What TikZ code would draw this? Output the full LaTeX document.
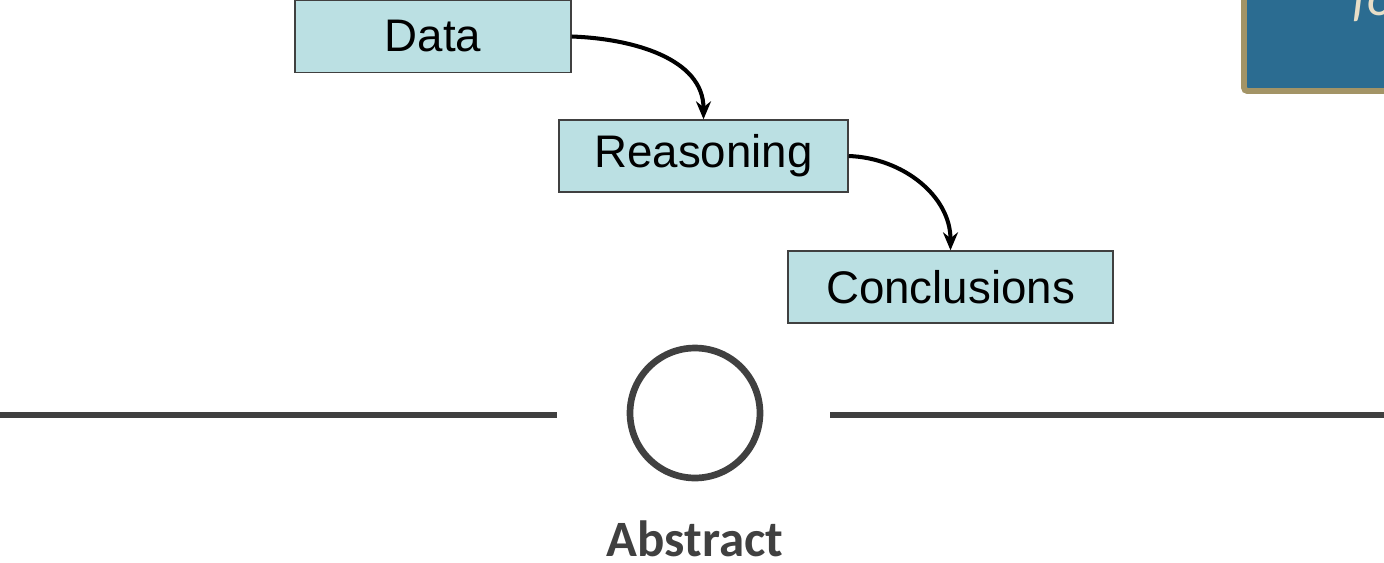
\documentclass[tikz,border=0pt]{standalone}
\usepackage{fontspec}
\setmainfont{Liberation Sans}
\newfontfamily\calfont{Carlito}
\usetikzlibrary{positioning,arrows.meta}
\definecolor{boxfill}{HTML}{BBE0E3}
\definecolor{boxline}{HTML}{404040}
\definecolor{hubgray}{HTML}{404040}
\definecolor{panelblue}{HTML}{2B6C91}
\definecolor{paneltan}{HTML}{A39466}
\definecolor{panelcream}{HTML}{E8DEC7}

\begin{document}
\begin{tikzpicture}[x=0.02cm,y=-0.02cm,
  stagebox/.style={draw=boxline,line width=0.8pt,fill=boxfill,minimum height=1.44cm,
    font=\fontsize{26}{30}\selectfont,inner sep=0pt},
  flow/.style={-{Stealth[length=0.36cm,width=0.3cm]},line width=2.3pt,black}]
\clip (0,0) rectangle (1384,562);
\useasboundingbox (0,0) rectangle (1384,562);

% Panel in the corner, mostly off the page
\draw[fill=panelblue,draw=paneltan,line width=3.4pt,rounded corners=2pt] (1244,-20) rectangle (1430,91);
\node[anchor=base west,text=panelcream,font=\calfont\itshape\fontsize{30}{34}\selectfont,inner sep=0pt] (paneltext) at (1352,15) {fo};

% Three stages
\node[stagebox,minimum width=5.52cm] (data) at (433,36.5) {Data};
\node[stagebox,minimum width=5.78cm] (reason) at (703.5,156) {Reasoning};
\node[stagebox,minimum width=6.5cm] (concl) at (950.5,287) {Conclusions};

\draw[flow] (data.east) to[out=-2,in=90] (reason.north);
\draw[flow] (reason.east) to[out=-2,in=90] (concl.north);

% Divider with circle
\node[circle,draw=hubgray,line width=3.8pt,minimum size=2.6cm,inner sep=0pt] (hub) at (695,413) {};
\coordinate (leftA) at (0,415);
\coordinate (leftB) at (557,415);
\coordinate (rightA) at (830,415);
\coordinate (rightB) at (1384,415);
\draw[hubgray,line width=3.8pt] (leftA) -- (leftB);
\draw[hubgray,line width=3.8pt] (rightA) -- (rightB);

\node[anchor=base,text=hubgray,font=\calfont\bfseries\fontsize{29}{34}\selectfont,inner sep=0pt] (abstract) at (695,556) {Abstract};
\end{tikzpicture}
\end{document}
